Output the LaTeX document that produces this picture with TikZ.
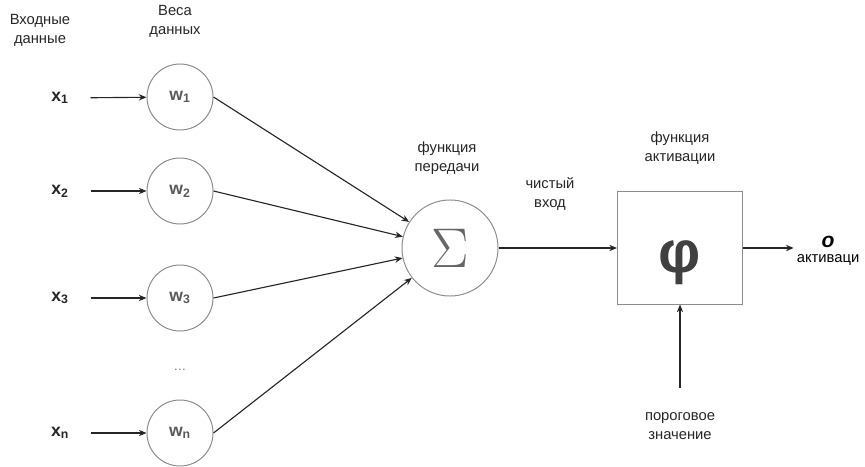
\documentclass[tikz,border=0pt]{standalone}
\usepackage{fontspec}
\setmainfont{Liberation Sans}
\usetikzlibrary{arrows.meta}
\tikzset{>={Stealth[length=5.5pt,width=4.5pt]}}
\tikzset{%
    lbl/.style={align=center, text=black!85, font=\fontsize{10.5}{13.5}\selectfont},
    inp/.style={text=black!85, font=\fontsize{12.5}{14}\selectfont\bfseries},
    weight/.style={circle, draw=black!45, line width=0.7pt, minimum size=1.65cm,
        inner sep=0pt, text=black!65, font=\fontsize{12.5}{14}\selectfont\bfseries},
    conn/.style={->, line width=0.8pt, black!85}
}

\begin{document}
\begin{tikzpicture}[x=0.025cm, y=-0.025cm]
\useasboundingbox (0,0) rectangle (865,466);

\node[lbl] (inlbl) at (40,30) {Входные\\данные};
\node[lbl] (wlbl) at (175,21) {Веса\\данных};

\node[inp] (x1) at (60,98) {x\textsubscript{1}};
\node[inp] (x2) at (60,191) {x\textsubscript{2}};
\node[inp] (x3) at (60,298) {x\textsubscript{3}};
\node[inp] (xn) at (60,433) {x\textsubscript{n}};

\node[weight] (w1) at (180,97) {w\textsubscript{1}};
\node[weight] (w2) at (180,191) {w\textsubscript{2}};
\node[weight] (w3) at (180,298) {w\textsubscript{3}};
\node[weight] (wn) at (180,433) {w\textsubscript{n}};
\node[text=black!55] (dots) at (180,370) {\small\dots};

\draw[conn, shorten <=12pt] (x1) -- (w1);
\draw[conn, shorten <=12pt] (x2) -- (w2);
\draw[conn, shorten <=12pt] (x3) -- (w3);
\draw[conn, shorten <=12pt] (xn) -- (wn);

\node[circle, draw=black!45, line width=0.7pt, minimum size=2.4cm, inner sep=0pt,
    text=black!60] (sum) at (450,248) {\scalebox{1.6}{\fontsize{24}{24}\selectfont$\Sigma$}};
\node[lbl] (sumlbl) at (447,158) {функция\\передачи};

\draw[conn] (w1.east) -- (sum);
\draw[conn] (w2.east) -- (sum);
\draw[conn] (w3.east) -- (sum);
\draw[conn] (wn.east) -- (sum);

\node[draw=black!45, line width=0.7pt, minimum width=3.125cm, minimum height=2.8cm,
    inner sep=0pt, text height=35pt, text depth=0pt,
    text=black!75, font=\fontsize{42}{42}\selectfont\bfseries] (act) at (680,248) {φ};
\node[lbl] (actlbl) at (680,148) {функция\\активации};

\draw[conn] (sum) -- (act);
\node[lbl] (netlbl) at (550,194) {чистый\\вход};

\node[align=center, inner sep=2pt] (out) at (828,251)
    {{\fontsize{15}{15}\selectfont\bfseries\itshape o}\\[-1pt]{\fontsize{10.5}{13}\selectfont активаци}};
\draw[conn] (act.east) -- (act.east -| out.west);

\node[lbl] (thr) at (680,426) {пороговое\\значение};
\draw[conn, shorten <=14pt] (thr) -- (act);
\end{tikzpicture}
\end{document}
